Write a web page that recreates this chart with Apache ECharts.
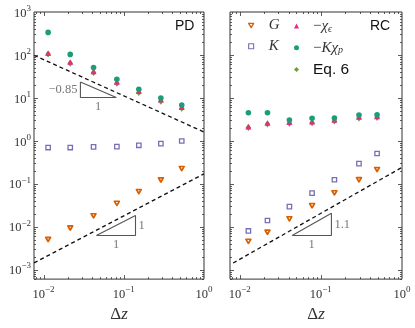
<!DOCTYPE html>
<html><head><meta charset="utf-8">
<script src="https://cdn.jsdelivr.net/npm/echarts@6/dist/echarts.min.js"></script>
<style>html,body{margin:0;padding:0;background:#fff}#c{width:415px;height:328px}</style>
</head><body><div id="c"></div><script>
// ---- data ----
const xPD      = [0.0114, 0.0215, 0.042, 0.082, 0.154, 0.29, 0.528];
const pdG      = [0.00503, 0.0093, 0.0179, 0.0348, 0.0656, 0.122, 0.225];
const pdK      = [0.695, 0.695, 0.721, 0.733, 0.785, 0.857, 0.989];
const pdChiE   = [109, 68.7, 41, 23.5, 14.3, 9.1, 6.05];
const pdKChiP  = [335, 103, 50.8, 27, 15.9, 9.9, 6.8];
const pdEq6    = [105, 64, 39, 21.9, 13.4, 8.3, 5.75];

const xRC      = [0.0128, 0.022, 0.041, 0.078, 0.147, 0.295, 0.493];
const rcG      = [0.00453, 0.0074, 0.0152, 0.0308, 0.0612, 0.1236, 0.214];
const rcK      = [0.00793, 0.0139, 0.0292, 0.0603, 0.1236, 0.294, 0.506];
const rcChiE   = [2.14, 2.6, 2.7, 2.79, 3.05, 3.57, 3.7];
const rcKChiP  = [4.5, 4.5, 3.05, 3.33, 3.39, 3.97, 4.04];
const rcEq6    = [2.03, 2.47, 2.56, 2.64, 2.89, 3.39, 3.51];

// guide lines (power laws) and slope triangles
const pdUpperLine = [[0.0076, 98], [1, 1.6]];
const pdLowerLine = [[0.0076, 0.00143], [1, 0.17]];
const rcLine      = [[0.0083, 0.00142], [1, 0.24]];
const pdTriUp  = [[0.0288, 23.5], [0.0288, 10.2], [0.0807, 10.2], [0.0288, 23.5]];
const pdTriLow = [[0.0455, 0.00622], [0.140, 0.00622], [0.140, 0.01815], [0.0455, 0.00622]];
const rcTri    = [[0.0443, 0.00622], [0.135, 0.00622], [0.135, 0.0205], [0.0443, 0.00622]];
const pdTriUpLabels  = [{v:[0.0288, 15.5], t:'−0.85', p:'left'}, {v:[0.048, 10.2], t:'1', p:'bottom'}];
const pdTriLowLabels = [{v:[0.140, 0.0106], t:'1', p:'right'}, {v:[0.08, 0.00622], t:'1', p:'bottom'}];
const rcTriLabels    = [{v:[0.135, 0.0113], t:'1.1', p:'right'}, {v:[0.077, 0.00622], t:'1', p:'bottom'}];

// ---- layout ----
const X_MIN = 0.0076, X_MAX = 1, Y_MIN = 0.0006, Y_MAX = 1000;
const C = {G:'#d95f02', K:'#7570b3', chiE:'#e7298a', KchiP:'#1b9e77', Eq6:'#66a61e'};
const DOWN = 'path://M0,0L10,0L5,8.66Z';
const SERIF = '"Liberation Serif", "DejaVu Serif", serif';
const SANS = '"Liberation Sans", "DejaVu Sans", sans-serif';

function pow10Label(v){
  const l = Math.log10(v), r = Math.round(l);
  if (Math.abs(l - r) > 1e-6) return '';
  return '{b|10}{s|' + String(r).replace('-', '−') + '}';
}
const tickRich = {
  b:{fontFamily:SERIF, fontSize:12.5, color:'#333', lineHeight:16, verticalAlign:'bottom'},
  s:{fontFamily:SERIF, fontSize:9, color:'#333', lineHeight:16, verticalAlign:'top', padding:[0,0,7,0]}
};

function pairs(xs, ys){ return xs.map((x,i)=>[x, ys[i]]); }

// tick marks drawn through the axis scales
const majX = [0.01, 0.1];
const majY = [0.001, 0.01, 0.1, 1, 10, 100];
const tickData = [];
majX.forEach(v=>tickData.push([v, Y_MIN, 0, 1]));
majY.forEach(v=>tickData.push([X_MIN, v, 1, 1]));
for (let d=-3; d<=-1; d++) for (let m=2; m<=9; m++){ const v=m*Math.pow(10,d); if(v>X_MIN && v<X_MAX) tickData.push([v, Y_MIN, 0, 0]); }
for (let d=-4; d<=2; d++) for (let m=2; m<=9; m++){ const v=m*Math.pow(10,d); if(v>Y_MIN && v<Y_MAX) tickData.push([X_MIN, v, 1, 0]); }

function tickSeries(gi){
  return {type:'custom', xAxisIndex:gi, yAxisIndex:gi, silent:true, z:10, encode:{x:0,y:1},
    data: tickData,
    renderItem(params, api){
      const cs = params.coordSys;
      const kind = api.value(2), major = api.value(3);
      const len = major ? 4 : 2;
      const st = {stroke:'#333', lineWidth:0.8};
      const p = api.coord([api.value(0), api.value(1)]);
      if (kind === 0){
        const px = Math.round(p[0]) + 0.5;
        return {type:'group', children:[
          {type:'line', shape:{x1:px, y1:cs.y+cs.height, x2:px, y2:cs.y+cs.height-len}, style:st},
          {type:'line', shape:{x1:px, y1:cs.y, x2:px, y2:cs.y+len}, style:st}]};
      } else {
        const py = Math.round(p[1]) + 0.5;
        return {type:'group', children:[
          {type:'line', shape:{x1:cs.x, y1:py, x2:cs.x+len, y2:py}, style:st},
          {type:'line', shape:{x1:cs.x+cs.width, y1:py, x2:cs.x+cs.width-len, y2:py}, style:st}]};
      }
    }};
}

const STY = {
  G:{symbol:DOWN, size:[4.8,4.2], item:{color:'#fff', borderColor:C.G, borderWidth:1.7, borderJoin:'round'}},
  K:{symbol:'rect', size:4.4, item:{color:'#fff', borderColor:C.K, borderWidth:1.3, borderJoin:'miter'}},
  Eq6:{symbol:'diamond', size:[5.5,7], item:{color:C.Eq6}},
  chiE:{symbol:'triangle', size:[6,5.6], item:{color:C.chiE}},
  KchiP:{symbol:'circle', size:5.6, item:{color:C.KchiP}}
};
const LEG_STY = {
  G:{color:'#fff', borderColor:C.G, borderWidth:1.3, borderJoin:'round'},
  K:{color:'#fff', borderColor:C.K, borderWidth:1.1},
  Eq6:{color:C.Eq6}, chiE:{color:C.chiE}, KchiP:{color:C.KchiP}
};
function sc(gi, name, xs, ys, z){
  const s = STY[name];
  return {name:name, type:'scatter', xAxisIndex:gi, yAxisIndex:gi, symbol:s.symbol, symbolSize:s.size,
    itemStyle:Object.assign({opacity:1}, s.item), data:pairs(xs, ys), z:z};
}
function scatterSet(gi, xs, G, K, chiE, KchiP, Eq6){
  return [sc(gi,'G',xs,G,3), sc(gi,'K',xs,K,3), sc(gi,'Eq6',xs,Eq6,3), sc(gi,'chiE',xs,chiE,4), sc(gi,'KchiP',xs,KchiP,5)];
}
function dashed(gi, pts){
  return {type:'line', xAxisIndex:gi, yAxisIndex:gi, data:pts, symbol:'none', silent:true, z:2,
    lineStyle:{color:'#111', width:1.3, type:[4,3]}};
}
function tri(gi, pts, labels){
  return [
    {type:'line', xAxisIndex:gi, yAxisIndex:gi, data:pts, symbol:'none', silent:true, z:2,
     lineStyle:{color:'#555', width:1.1}},
    {type:'scatter', xAxisIndex:gi, yAxisIndex:gi, symbolSize:0, silent:true, z:2,
     data: labels.map(l=>({value:l.v, label:{show:true, formatter:l.t, position:l.p, distance:3,
       fontFamily:SERIF, fontSize:12.5, color:'#555'}}))}
  ];
}

const xAxisBase = (gi)=>({type:'log', gridIndex:gi, logBase:10, min:X_MIN, max:X_MAX,
  axisLine:{show:false}, axisTick:{show:false}, splitLine:{show:false}, minorTick:{show:false},
  axisLabel:{formatter:pow10Label, rich:tickRich, margin:6, showMinLabel:true, showMaxLabel:true, hideOverlap:false},
  name:'{d|Δ}{z|z}', nameLocation:'middle', nameGap:22,
  nameTextStyle:{rich:{d:{fontFamily:SERIF, fontSize:17, color:'#333'}, z:{fontFamily:SERIF, fontSize:17, fontStyle:'italic', color:'#333'}}}
});
const yAxisBase = (gi, labels)=>({type:'log', gridIndex:gi, logBase:10, min:Y_MIN, max:Y_MAX,
  axisLine:{show:false}, axisTick:{show:false}, splitLine:{show:false}, minorTick:{show:false},
  axisLabel:{show:labels, formatter:pow10Label, rich:tickRich, margin:3, showMinLabel:true, showMaxLabel:true, hideOverlap:false}
});

const legendNames = {
  G:'{i|G}', K:'{i|K}', chiE:'{n|−}{i|χ}{s|ϵ}', KchiP:'{n|−}{i|Kχ}{s|p}', Eq6:'{t|Eq. 6}'
};
const legendRich = {
  i:{fontFamily:SERIF, fontStyle:'italic', fontSize:15, color:'#333', lineHeight:16},
  n:{fontFamily:SERIF, fontSize:15, color:'#333', lineHeight:16},
  s:{fontFamily:SERIF, fontStyle:'italic', fontSize:10, color:'#333', lineHeight:16, verticalAlign:'bottom', padding:[6,0,0,0]},
  t:{fontFamily:SANS, fontSize:15.5, color:'#111', lineHeight:16}
};
function legend(left, names, pad){
  return {orient:'vertical', left:left, top:13, itemWidth:5, itemHeight:5, itemGap:5.8,
    selectedMode:false,
    data:names.map(n=>({name:n, icon:STY[n].symbol, itemStyle:Object.assign({}, LEG_STY[n])})),
    formatter:n=>legendNames[n],
    textStyle:{rich:legendRich, padding:[0,0,0,pad]}};
}

const chart = echarts.init(document.getElementById('c'), null, {renderer:'canvas'});
chart.setOption({
  animation:false,
  grid:[
    {left:34, top:12, width:170, height:271, show:true, borderColor:'#333', borderWidth:1, backgroundColor:'transparent'},
    {left:230, top:12, width:172, height:271, show:true, borderColor:'#333', borderWidth:1, backgroundColor:'transparent'}
  ],
  xAxis:[xAxisBase(0), xAxisBase(1)],
  yAxis:[yAxisBase(0, true), yAxisBase(1, false)],
  legend:[legend(243, ['G','K'], 10), legend(289, ['chiE','KchiP','Eq6'], 9)],
  graphic:[
    {type:'text', left:175, top:19, style:{text:'PD', font:'14px '+SANS, fill:'#111'}},
    {type:'text', left:370, top:19, style:{text:'RC', font:'14px '+SANS, fill:'#111'}}
  ],
  series:[
    dashed(0, pdUpperLine), dashed(0, pdLowerLine),
    ...tri(0, pdTriUp, pdTriUpLabels), ...tri(0, pdTriLow, pdTriLowLabels),
    ...scatterSet(0, xPD, pdG, pdK, pdChiE, pdKChiP, pdEq6),
    dashed(1, rcLine), ...tri(1, rcTri, rcTriLabels),
    ...scatterSet(1, xRC, rcG, rcK, rcChiE, rcKChiP, rcEq6),
    tickSeries(0), tickSeries(1)
  ]
});
</script></body></html>
